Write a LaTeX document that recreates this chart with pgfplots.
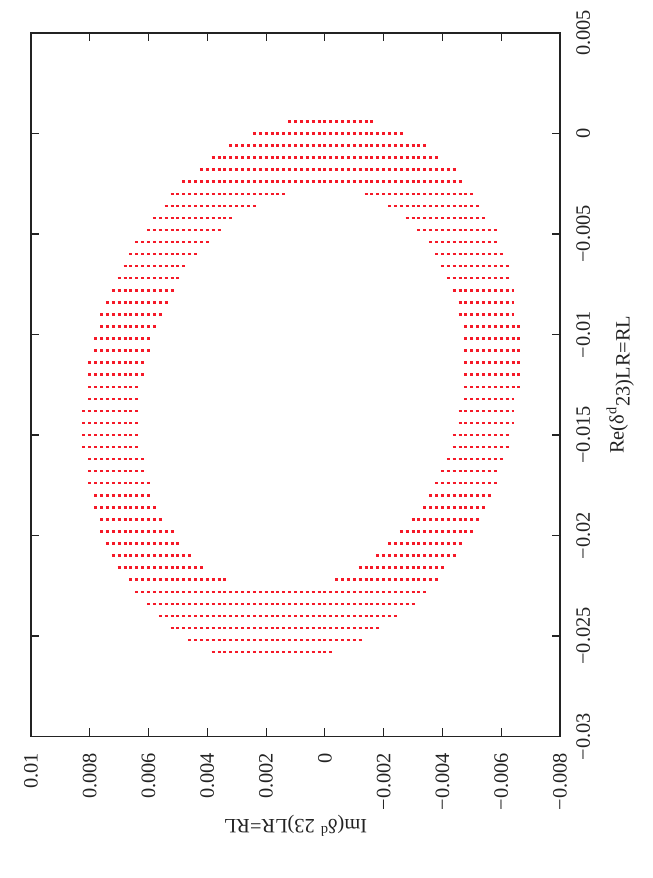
\documentclass[border=0pt]{standalone}
\usepackage{fontspec}
\setmainfont{Liberation Serif}
\usepackage{pgfplots}
\pgfplotsset{compat=1.18}
\definecolor{dotred}{RGB}{245,25,40}
\definecolor{axgray}{RGB}{35,35,35}
\begin{document}
\begin{tikzpicture}
\begin{axis}[name=ax, at={(0,0)}, anchor=south west, scale only axis,
  width=264.5pt, height=351.75pt,
  xmin=-0.008, xmax=0.01, x dir=reverse, ymin=-0.03, ymax=0.005,
  scaled ticks=false,
  axis line style={axgray, line width=0.8pt},
  tick style={axgray, line width=0.6pt}, major tick length=4pt, tick align=inside,
  xtick pos=both, ytick pos=both, yticklabel pos=right,
  xtick={-0.008,-0.006,-0.004,-0.002,0,0.002,0.004,0.006,0.008,0.01},
  xticklabels={−0.008,−0.006,−0.004,−0.002,0,0.002,0.004,0.006,0.008,0.01},
  ytick={-0.03,-0.025,-0.02,-0.015,-0.01,-0.005,0,0.005},
  yticklabels={−0.03,−0.025,−0.02,−0.015,−0.01,−0.005,0,0.005},
  xticklabel style={yshift=-8pt, rotate=90, anchor=east, inner sep=0pt, font=\fontsize{10.2}{12}\selectfont, text=axgray},
  yticklabel style={xshift=8pt, rotate=90, anchor=north, inner sep=0pt, font=\fontsize{10.2}{12}\selectfont, text=axgray},
  unbounded coords=jump, clip=false]
\addplot[dotred, line width=1.25pt, dash pattern=on 1.5pt off 1.43889pt] table {
im re
0.00125 0.0006
-0.00165 0.0006
nan nan
0.00245 0
-0.00265 0
nan nan
0.00325 -0.0006
-0.00345 -0.0006
nan nan
0.00385 -0.0012
-0.00385 -0.0012
nan nan
0.00425 -0.0018
-0.00445 -0.0018
nan nan
0.00485 -0.0024
-0.00465 -0.0024
nan nan
0.00525 -0.0030
0.00135 -0.0030
nan nan
-0.00135 -0.0030
-0.00505 -0.0030
nan nan
0.00545 -0.0036
0.00235 -0.0036
nan nan
-0.00215 -0.0036
-0.00525 -0.0036
nan nan
0.00585 -0.0042
0.00315 -0.0042
nan nan
-0.00275 -0.0042
-0.00545 -0.0042
nan nan
0.00605 -0.0048
0.00355 -0.0048
nan nan
-0.00315 -0.0048
-0.00585 -0.0048
nan nan
0.00645 -0.0054
0.00395 -0.0054
nan nan
-0.00355 -0.0054
-0.00585 -0.0054
nan nan
0.00665 -0.0060
0.00435 -0.0060
nan nan
-0.00375 -0.0060
-0.00605 -0.0060
nan nan
0.00685 -0.0066
0.00475 -0.0066
nan nan
-0.00395 -0.0066
-0.00625 -0.0066
nan nan
0.00705 -0.0072
0.00495 -0.0072
nan nan
-0.00415 -0.0072
-0.00625 -0.0072
nan nan
0.00725 -0.0078
0.00515 -0.0078
nan nan
-0.00435 -0.0078
-0.00645 -0.0078
nan nan
0.00745 -0.0084
0.00535 -0.0084
nan nan
-0.00455 -0.0084
-0.00645 -0.0084
nan nan
0.00765 -0.0090
0.00555 -0.0090
nan nan
-0.00455 -0.0090
-0.00645 -0.0090
nan nan
0.00765 -0.0096
0.00575 -0.0096
nan nan
-0.00475 -0.0096
-0.00665 -0.0096
nan nan
0.00785 -0.0102
0.00595 -0.0102
nan nan
-0.00475 -0.0102
-0.00665 -0.0102
nan nan
0.00785 -0.0108
0.00595 -0.0108
nan nan
-0.00475 -0.0108
-0.00665 -0.0108
nan nan
0.00805 -0.0114
0.00615 -0.0114
nan nan
-0.00475 -0.0114
-0.00665 -0.0114
nan nan
0.00805 -0.0120
0.00615 -0.0120
nan nan
-0.00475 -0.0120
-0.00665 -0.0120
nan nan
0.00805 -0.0126
0.00635 -0.0126
nan nan
-0.00475 -0.0126
-0.00665 -0.0126
nan nan
0.00805 -0.0132
0.00635 -0.0132
nan nan
-0.00475 -0.0132
-0.00645 -0.0132
nan nan
0.00825 -0.0138
0.00635 -0.0138
nan nan
-0.00455 -0.0138
-0.00645 -0.0138
nan nan
0.00825 -0.0144
0.00635 -0.0144
nan nan
-0.00455 -0.0144
-0.00645 -0.0144
nan nan
0.00825 -0.0150
0.00635 -0.0150
nan nan
-0.00435 -0.0150
-0.00625 -0.0150
nan nan
0.00825 -0.0156
0.00635 -0.0156
nan nan
-0.00435 -0.0156
-0.00625 -0.0156
nan nan
0.00805 -0.0162
0.00615 -0.0162
nan nan
-0.00415 -0.0162
-0.00605 -0.0162
nan nan
0.00805 -0.0168
0.00615 -0.0168
nan nan
-0.00395 -0.0168
-0.00585 -0.0168
nan nan
0.00805 -0.0174
0.00595 -0.0174
nan nan
-0.00375 -0.0174
-0.00585 -0.0174
nan nan
0.00785 -0.0180
0.00595 -0.0180
nan nan
-0.00355 -0.0180
-0.00565 -0.0180
nan nan
0.00785 -0.0186
0.00575 -0.0186
nan nan
-0.00335 -0.0186
-0.00545 -0.0186
nan nan
0.00765 -0.0192
0.00555 -0.0192
nan nan
-0.00295 -0.0192
-0.00525 -0.0192
nan nan
0.00765 -0.0198
0.00515 -0.0198
nan nan
-0.00255 -0.0198
-0.00505 -0.0198
nan nan
0.00745 -0.0204
0.00495 -0.0204
nan nan
-0.00215 -0.0204
-0.00465 -0.0204
nan nan
0.00725 -0.0210
0.00455 -0.0210
nan nan
-0.00175 -0.0210
-0.00445 -0.0210
nan nan
0.00705 -0.0216
0.00415 -0.0216
nan nan
-0.00115 -0.0216
-0.00405 -0.0216
nan nan
0.00665 -0.0222
0.00335 -0.0222
nan nan
-0.00035 -0.0222
-0.00385 -0.0222
nan nan
0.00645 -0.0228
-0.00345 -0.0228
nan nan
0.00605 -0.0234
-0.00305 -0.0234
nan nan
0.00565 -0.0240
-0.00245 -0.0240
nan nan
0.00525 -0.0246
-0.00185 -0.0246
nan nan
0.00465 -0.0252
-0.00125 -0.0252
nan nan
0.00385 -0.0258
-0.00025 -0.0258
};
\end{axis}
\node[rotate=90, anchor=north, inner sep=0pt, text=axgray, font=\fontsize{10.2}{12}\selectfont] at ([xshift=23pt]ax.east) {Re(δ\textsuperscript{d}\raisebox{-3pt}{23)LR=RL}};
\node[rotate=180, inner sep=0pt, text=axgray, font=\fontsize{10.2}{12}\selectfont] at ([yshift=-44.5pt]ax.south) {Im(δ\textsuperscript{d} 23)LR=RL};
\pgfresetboundingbox
\path (-15.5pt,-70.75pt) rectangle (311pt,368.25pt);
\end{tikzpicture}
\end{document}
